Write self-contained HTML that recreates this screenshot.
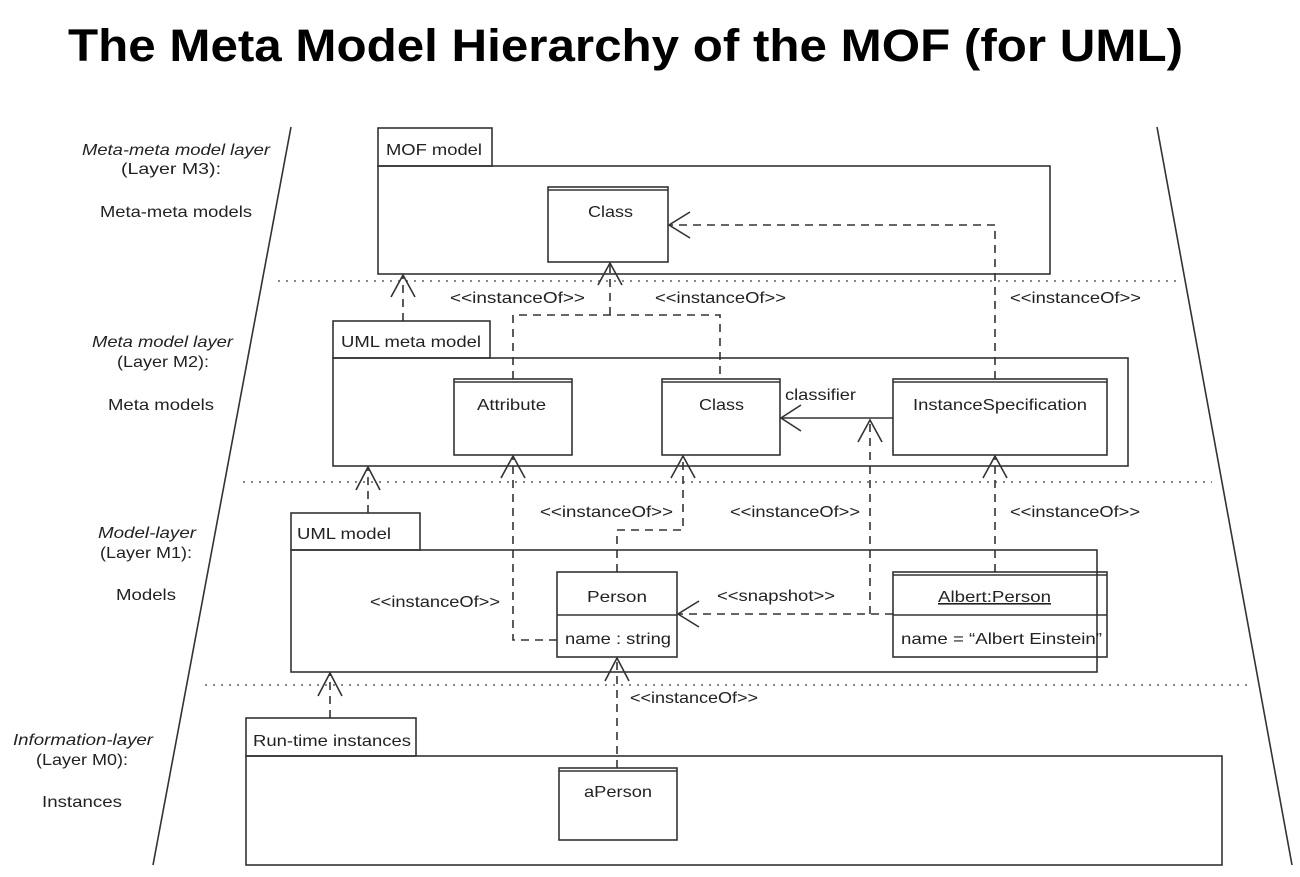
<!DOCTYPE html>
<html><head><meta charset="utf-8"><style>
body{margin:0;background:#fff}
svg{display:block}
text{font-family:"Liberation Sans",sans-serif;fill:#222;font-size:16px}
.i{font-style:italic}
.b{fill:none;stroke:#333;stroke-width:1.6}
.d{fill:none;stroke:#333;stroke-width:1.6;stroke-dasharray:8,6}
.a{fill:none;stroke:#333;stroke-width:1.6}
.dot{stroke:#888;stroke-width:2;stroke-dasharray:2,6}
</style></head><body>
<svg width="1300" height="877" viewBox="0 0 1300 877">
<text x="68" y="61" textLength="1115" lengthAdjust="spacingAndGlyphs" style="font-size:45px;font-weight:bold;fill:#000">The Meta Model Hierarchy of the MOF (for UML)</text>
<line x1="291" y1="127" x2="153" y2="865" class="a"/>
<line x1="1157" y1="127" x2="1292" y2="865" class="a"/>
<line x1="278" y1="281" x2="1180" y2="281" class="dot"/>
<line x1="243" y1="482" x2="1212" y2="482" class="dot"/>
<line x1="205" y1="685" x2="1252" y2="685" class="dot"/>

<text class="i" x="82" y="155" textLength="188" lengthAdjust="spacingAndGlyphs">Meta-meta model layer</text>
<text x="121" y="174" textLength="100" lengthAdjust="spacingAndGlyphs">(Layer M3):</text>
<text x="100" y="217" textLength="152" lengthAdjust="spacingAndGlyphs">Meta-meta models</text>
<text class="i" x="92" y="347" textLength="141" lengthAdjust="spacingAndGlyphs">Meta model layer</text>
<text x="117" y="367" textLength="92" lengthAdjust="spacingAndGlyphs">(Layer M2):</text>
<text x="108" y="410" textLength="106" lengthAdjust="spacingAndGlyphs">Meta models</text>
<text class="i" x="98" y="538" textLength="98" lengthAdjust="spacingAndGlyphs">Model-layer</text>
<text x="100" y="558" textLength="92" lengthAdjust="spacingAndGlyphs">(Layer M1):</text>
<text x="116" y="600" textLength="60" lengthAdjust="spacingAndGlyphs">Models</text>
<text class="i" x="13" y="745" textLength="140" lengthAdjust="spacingAndGlyphs">Information-layer</text>
<text x="36" y="765" textLength="92" lengthAdjust="spacingAndGlyphs">(Layer M0):</text>
<text x="42" y="807" textLength="80" lengthAdjust="spacingAndGlyphs">Instances</text>

<rect class="b" x="378" y="128" width="114" height="38"/>
<rect class="b" x="378" y="166" width="672" height="108"/>
<text x="386" y="155" textLength="96" lengthAdjust="spacingAndGlyphs">MOF model</text>
<rect class="b" x="333" y="321" width="157" height="37"/>
<rect class="b" x="333" y="358" width="795" height="108"/>
<text x="341" y="347" textLength="140" lengthAdjust="spacingAndGlyphs">UML meta model</text>
<rect class="b" x="291" y="513" width="129" height="37"/>
<rect class="b" x="291" y="550" width="806" height="122"/>
<text x="297" y="539" textLength="94" lengthAdjust="spacingAndGlyphs">UML model</text>
<rect class="b" x="246" y="718" width="170" height="38"/>
<rect class="b" x="246" y="756" width="976" height="109"/>
<text x="253" y="746" textLength="158" lengthAdjust="spacingAndGlyphs">Run-time instances</text>

<g class="b">
<rect x="548" y="187" width="120" height="75"/><line x1="548" y1="190" x2="668" y2="190"/>
<rect x="454" y="379" width="118" height="76"/><line x1="454" y1="382" x2="572" y2="382"/>
<rect x="662" y="379" width="118" height="76"/><line x1="662" y1="382" x2="780" y2="382"/>
<rect x="893" y="379" width="214" height="76"/><line x1="893" y1="382" x2="1107" y2="382"/>
<rect x="557" y="572" width="120" height="85"/><line x1="557" y1="615" x2="677" y2="615"/>
<rect x="893" y="572" width="214" height="85"/><line x1="893" y1="575" x2="1107" y2="575"/><line x1="893" y1="615" x2="1107" y2="615"/>
<rect x="559" y="768" width="118" height="72"/><line x1="559" y1="771" x2="677" y2="771"/>
</g>
<text x="588" y="217" textLength="45" lengthAdjust="spacingAndGlyphs">Class</text>
<text x="477" y="410" textLength="69" lengthAdjust="spacingAndGlyphs">Attribute</text>
<text x="699" y="410" textLength="45" lengthAdjust="spacingAndGlyphs">Class</text>
<text x="913" y="410" textLength="174" lengthAdjust="spacingAndGlyphs">InstanceSpecification</text>
<text x="587" y="602" textLength="60" lengthAdjust="spacingAndGlyphs">Person</text>
<text x="565" y="644" textLength="106" lengthAdjust="spacingAndGlyphs">name : string</text>
<text x="938" y="602" textLength="113" lengthAdjust="spacingAndGlyphs" style="text-decoration:underline">Albert:Person</text>
<text x="901" y="644" textLength="201" lengthAdjust="spacingAndGlyphs">name = “Albert Einstein”</text>
<text x="584" y="797" textLength="68" lengthAdjust="spacingAndGlyphs">aPerson</text>

<path class="d" d="M995 379 V225 H670"/>
<path class="d" d="M403 321 V276"/>
<path class="d" d="M513 379 V315 H720 V379"/>
<path class="d" d="M610 315 V264"/>
<path class="d" d="M368 513 V468"/>
<path class="d" d="M617 572 V530 H683 V457"/>
<path class="d" d="M557 640 H513 V457"/>
<path class="d" d="M893 614 H679"/>
<path class="d" d="M870 614 V420"/>
<path class="d" d="M995 572 V457"/>
<path class="d" d="M330 718 V674"/>
<path class="d" d="M617 768 V659"/>
<line class="a" x1="893" y1="418" x2="780" y2="418"/>

<g class="a">
<path d="M690 212 L669 225 L690 238"/>
<path d="M391 297 L403 275 L415 297"/>
<path d="M598 285 L610 263 L622 285"/>
<path d="M356 490 L368 467 L380 490"/>
<path d="M501 478 L513 456 L525 478"/>
<path d="M671 478 L683 456 L695 478"/>
<path d="M983 478 L995 456 L1007 478"/>
<path d="M801 405 L781 418 L801 431"/>
<path d="M858 442 L870 420 L882 442"/>
<path d="M699 601 L678 614 L699 627"/>
<path d="M318 696 L330 673 L342 696"/>
<path d="M605 681 L617 658 L629 681"/>
</g>

<text x="450" y="303" textLength="135" lengthAdjust="spacingAndGlyphs">&lt;&lt;instanceOf&gt;&gt;</text>
<text x="655" y="303" textLength="131" lengthAdjust="spacingAndGlyphs">&lt;&lt;instanceOf&gt;&gt;</text>
<text x="1010" y="303" textLength="131" lengthAdjust="spacingAndGlyphs">&lt;&lt;instanceOf&gt;&gt;</text>
<text x="540" y="517" textLength="133" lengthAdjust="spacingAndGlyphs">&lt;&lt;instanceOf&gt;&gt;</text>
<text x="730" y="517" textLength="130" lengthAdjust="spacingAndGlyphs">&lt;&lt;instanceOf&gt;&gt;</text>
<text x="1010" y="517" textLength="130" lengthAdjust="spacingAndGlyphs">&lt;&lt;instanceOf&gt;&gt;</text>
<text x="370" y="607" textLength="130" lengthAdjust="spacingAndGlyphs">&lt;&lt;instanceOf&gt;&gt;</text>
<text x="630" y="703" textLength="128" lengthAdjust="spacingAndGlyphs">&lt;&lt;instanceOf&gt;&gt;</text>
<text x="717" y="601" textLength="118" lengthAdjust="spacingAndGlyphs">&lt;&lt;snapshot&gt;&gt;</text>
<text x="785" y="400" textLength="71" lengthAdjust="spacingAndGlyphs">classifier</text>
</svg>
</body></html>
